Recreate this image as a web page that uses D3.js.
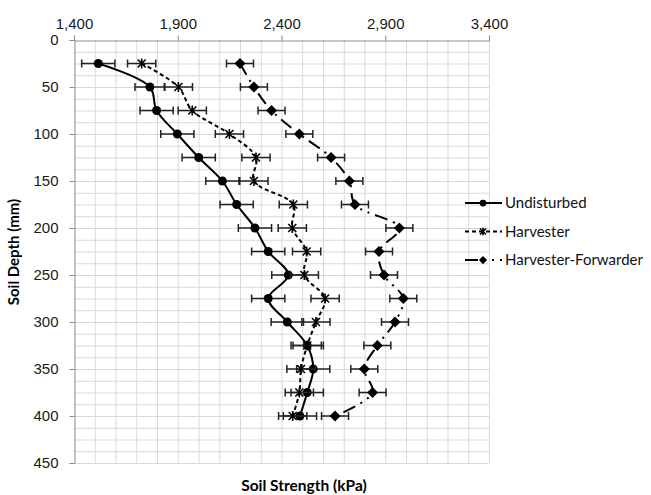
<!DOCTYPE html>
<html>
<head>
<meta charset="utf-8">
<script src="https://cdn.jsdelivr.net/npm/d3@7"></script>
<style>
  body { margin: 0; background: #fff; }
  svg { display: block; font-family: Lato, "Open Sans", sans-serif; }
</style>
</head>
<body>
<div id="chart"></div>
<script>
// soil depth (mm) for every reading
var depths = [25, 50, 75, 100, 125, 150, 175, 200, 225, 250, 275, 300, 325, 350, 375, 400];

// soil strength (kPa)
var undisturbed = [1517, 1766, 1798, 1898, 2001, 2115, 2184, 2272, 2336, 2433, 2336, 2428, 2524, 2553, 2524, 2489];
var harvester   = [1726, 1903, 1970, 2149, 2277, 2267, 2457, 2452, 2521, 2510, 2610, 2566, 2524, 2494, 2486, 2454];
var forwarder   = [2200, 2267, 2352, 2486, 2639, 2727, 2754, 2968, 2870, 2894, 2987, 2947, 2862, 2799, 2839, 2658];

// half width of the error bars (kPa)
var undisturbedErr = [80, 72, 80, 80, 80, 80, 80, 80, 80, 80, 80, 78, 78, 80, 78, 80];
var harvesterErr   = [68, 68, 68, 68, 68, 68, 68, 68, 68, 68, 68, 68, 68, 68, 68, 68];
var forwarderErr   = [65, 65, 65, 65, 65, 65, 65, 65, 65, 65, 65, 65, 65, 65, 65, 65];

var seriesNames = ["Undisturbed", "Harvester", "Harvester-Forwarder"];
var xTicks = [1400, 1900, 2400, 2900, 3400];
var yTicks = [0, 50, 100, 150, 200, 250, 300, 350, 400, 450];

var width = 651, height = 495;
var margin = {top: 40, right: 162, bottom: 32, left: 74};

var series = [
  {name: seriesNames[0], values: undisturbed, err: undisturbedErr, dash: null, marker: "circle"},
  {name: seriesNames[1], values: harvester, err: harvesterErr, dash: "4,3", marker: "star"},
  {name: seriesNames[2], values: forwarder, err: forwarderErr, dash: "13,6,2,6,2,6", marker: "diamond"}
];

var x = d3.scaleLinear().domain([1400, 3400]).range([margin.left, width - margin.right]);
var y = d3.scaleLinear().domain([0, 450]).range([margin.top, height - margin.bottom]);

var svg = d3.select("#chart").append("svg")
    .attr("width", width)
    .attr("height", height);

// grid: every 100 kPa and every 12.5 mm
var grid = svg.append("g").attr("stroke", "#d9d9d9").attr("stroke-width", 1);
grid.selectAll("line.v")
    .data(d3.range(1500, 3401, 100))
    .join("line")
    .attr("x1", d => x(d) + 0.5).attr("x2", d => x(d) + 0.5)
    .attr("y1", y(0)).attr("y2", y(450));
grid.selectAll("line.h")
    .data(d3.range(12.5, 450.1, 12.5))
    .join("line")
    .attr("x1", x(1400)).attr("x2", x(3400))
    .attr("y1", d => y(d) + 0.5).attr("y2", d => y(d) + 0.5);

// axes
var xAxis = g => g
    .attr("transform", `translate(0,${y(0) + 0.5})`)
    .call(d3.axisTop(x).tickValues(xTicks).tickFormat(d3.format(",")).tickSizeOuter(0).tickSize(5).tickPadding(7))
    .call(g => g.selectAll("path, line").attr("stroke", "#8c8c8c"))
    .call(g => g.selectAll("text").attr("fill", "#1a1a1a").style("font-size", "15px"));

var yAxis = g => g
    .attr("transform", `translate(${x(1400) + 0.5},0)`)
    .call(d3.axisLeft(y).tickValues(yTicks).tickSizeOuter(0).tickSize(5).tickPadding(11))
    .call(g => g.selectAll("path, line").attr("stroke", "#8c8c8c"))
    .call(g => g.selectAll("text").attr("fill", "#1a1a1a").style("font-size", "15px"));

svg.append("g").call(xAxis);
svg.append("g").call(yAxis);

svg.append("text")
    .attr("transform", "translate(19,252) rotate(-90)")
    .attr("text-anchor", "middle")
    .style("font-size", "15px").style("font-weight", "bold")
    .text("Soil Depth (mm)");

svg.append("text")
    .attr("x", 304)
    .attr("y", 491)
    .attr("text-anchor", "middle")
    .style("font-size", "15.5px").style("font-weight", "bold")
    .text("Soil Strength (kPa)");

function drawMarker(g, type, k) {
  k = k || 1;
  if (type === "circle") {
    g.append("circle").attr("r", 4.5 * k).attr("fill", "#000");
  } else if (type === "diamond") {
    var r = 5.5 * k;
    g.append("path").attr("d", `M0,${-r}L${r},0L0,${r}L${-r},0Z`).attr("fill", "#000");
  } else {
    var a = 4 * k, b = 5 * k;
    g.append("path")
      .attr("d", `M${-a},${-a}L${a},${a}M${-a},${a}L${a},${-a}M0,${-b}L0,${b}`)
      .attr("stroke", "#000").attr("stroke-width", 1.6).attr("fill", "none");
  }
}

var line = d3.line()
    .x(d => x(d[0]))
    .y(d => y(d[1]))
    .curve(d3.curveCatmullRom.alpha(0.5));

series.forEach(s => {
  var pts = depths.map((dep, i) => [s.values[i], dep, s.err[i]]);
  var g = svg.append("g");

  // error bars
  var eb = g.selectAll("g.err").data(pts).join("g")
      .attr("stroke", "#222").attr("stroke-width", 1.5);
  eb.append("line")
      .attr("x1", d => x(d[0] - d[2])).attr("x2", d => x(d[0] + d[2]))
      .attr("y1", d => y(d[1])).attr("y2", d => y(d[1]));
  eb.append("line")
      .attr("x1", d => x(d[0] - d[2])).attr("x2", d => x(d[0] - d[2]))
      .attr("y1", d => y(d[1]) - 4).attr("y2", d => y(d[1]) + 4);
  eb.append("line")
      .attr("x1", d => x(d[0] + d[2])).attr("x2", d => x(d[0] + d[2]))
      .attr("y1", d => y(d[1]) - 4).attr("y2", d => y(d[1]) + 4);

  g.append("path")
      .datum(pts)
      .attr("fill", "none")
      .attr("stroke", "#000")
      .attr("stroke-width", 2)
      .attr("stroke-dasharray", s.dash)
      .attr("d", line);

  g.selectAll("g.m").data(pts).join("g")
      .attr("transform", d => `translate(${x(d[0])},${y(d[1])})`)
      .each(function() { drawMarker(d3.select(this), s.marker); });
});

// legend
var legend = svg.append("g").attr("transform", "translate(465,0)");
series.forEach((s, i) => {
  var ly = 203 + i * 28.5;
  legend.append("line")
      .attr("x1", 0).attr("x2", 37)
      .attr("y1", ly).attr("y2", ly)
      .attr("stroke", "#000").attr("stroke-width", 2)
      .attr("stroke-dasharray", s.dash);
  var m = legend.append("g").attr("transform", `translate(18,${ly})`);
  drawMarker(m, s.marker, 0.75);
  legend.append("text")
      .attr("x", 40).attr("y", ly)
      .attr("dy", "0.35em")
      .style("font-size", "15px")
      .attr("fill", "#111")
      .text(s.name);
});
</script>
</body>
</html>
